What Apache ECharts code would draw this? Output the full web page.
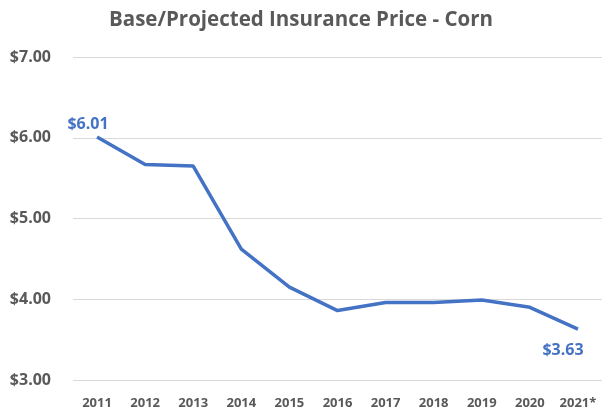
<!DOCTYPE html>
<html>
<head>
<meta charset="utf-8">
<script src="https://cdn.jsdelivr.net/npm/echarts@6/dist/echarts.min.js"></script>
<style>
  html, body { margin: 0; padding: 0; background: #fff; }
  #main { width: 602px; height: 410px; }
</style>
</head>
<body>
<div id="main"></div>
<script>
var years = ["2011", "2012", "2013", "2014", "2015", "2016", "2017", "2018", "2019", "2020", "2021*"];
var prices = [6.01, 5.67, 5.65, 4.62, 4.15, 3.86, 3.96, 3.96, 3.99, 3.90, 3.63];

var myChart = echarts.init(document.getElementById("main"));
var font = "'Open Sans', 'Noto Sans', sans-serif";

myChart.setOption({
  animation: false,
  title: {
    text: "Base/Projected Insurance Price - Corn",
    left: "center",
    top: 5,
    textStyle: { fontFamily: font, fontSize: 20.5, fontWeight: "bold", color: "#595959" }
  },
  grid: { left: 73, right: 0, top: 57, bottom: 30 },
  xAxis: {
    type: "category",
    data: years,
    axisLine: { show: false },
    axisTick: { show: false },
    axisLabel: { fontFamily: font, fontSize: 13, fontWeight: "bold", color: "#595959", margin: 17 }
  },
  yAxis: {
    type: "value",
    min: 3,
    max: 7,
    interval: 1,
    axisLabel: {
      fontFamily: font, fontSize: 16, fontWeight: "bold", color: "#595959", margin: 22,
      formatter: function (v) { return "$" + v.toFixed(2); }
    },
    splitLine: { lineStyle: { color: "#d9d9d9", width: 1 } }
  },
  series: [{
    type: "line",
    data: prices,
    symbol: "none",
    lineStyle: { color: "#4472c4", width: 3.5 },
    label: { show: false },
    markPoint: {
      symbol: "circle",
      symbolSize: 0,
      label: {
        show: true,
        fontFamily: font, fontSize: 16, fontWeight: "bold", color: "#4472c4",
        formatter: function (p) { return "$" + p.value.toFixed(2); }
      },
      data: [
        { coord: [0, prices[0]], value: prices[0], label: { position: "top", offset: [-9, 0] } },
        { coord: [10, prices[10]], value: prices[10], label: { position: "bottom", offset: [-15, 8] } }
      ]
    }
  }]
});
</script>
</body>
</html>
